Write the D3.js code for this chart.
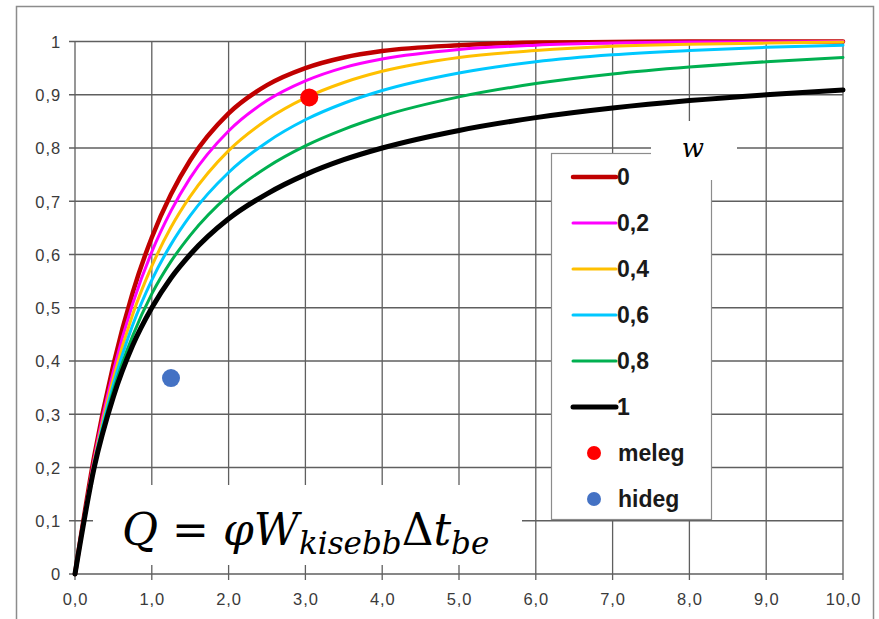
<!DOCTYPE html>
<html>
<head>
<meta charset="utf-8">
<script src="https://cdn.jsdelivr.net/npm/d3@7"></script>
<style>
  html,body{margin:0;padding:0;background:#fff;}
  svg{display:block;}
</style>
</head>
<body>
<svg id="chart" width="879" height="619"></svg>
<script>
/* values */
const ntu = [0,0.25,0.5,0.75,1,1.25,1.5,2,2.5,3,3.5,4,5,6,7,8,9,10];
const phiW0  = [0,0.221,0.393,0.528,0.632,0.713,0.777,0.865,0.918,0.950,0.970,0.982,0.993,0.998,0.999,1.000,1.000,1.000];
const phiW02 = [0,0.217,0.381,0.507,0.605,0.682,0.744,0.832,0.889,0.926,0.951,0.967,0.985,0.993,0.997,0.999,0.999,1.000];
const phiW04 = [0,0.212,0.368,0.487,0.578,0.651,0.709,0.795,0.853,0.894,0.923,0.944,0.970,0.983,0.991,0.995,0.997,0.999];
const phiW06 = [0,0.208,0.356,0.467,0.552,0.619,0.673,0.754,0.811,0.853,0.884,0.908,0.941,0.962,0.975,0.983,0.989,0.993];
const phiW08 = [0,0.204,0.345,0.447,0.526,0.587,0.636,0.711,0.764,0.804,0.835,0.860,0.896,0.921,0.939,0.952,0.962,0.970];
const phiW1  = [0,0.200,0.333,0.429,0.500,0.556,0.600,0.667,0.714,0.750,0.778,0.800,0.833,0.857,0.875,0.889,0.900,0.909];

const wLabels  = ["0","0,2","0,4","0,6","0,8","1"];
const seriesY  = [phiW0, phiW02, phiW04, phiW06, phiW08, phiW1];
const colors   = ["#C00000","#FF00FF","#FFC000","#00C8FF","#00B050","#000000"];
const widths   = [4.5,3,3,3,3,5];

const pointNames = ["meleg","hideg"];
const pointX     = [3.05, 1.25];
const pointY     = [0.895, 0.368];
const pointColor = ["#FF0000","#4472C4"];

const xTicks = [0,1,2,3,4,5,6,7,8,9,10];
const yTicks = [0,0.1,0.2,0.3,0.4,0.5,0.6,0.7,0.8,0.9,1];

const svg = d3.select("#chart");
const x = d3.scaleLinear().domain([0,10]).range([75,843]);
const y = d3.scaleLinear().domain([0,1]).range([574,41.5]);

/* outer frame */
svg.append("rect").attr("x",16.5).attr("y",6.5).attr("width",857).attr("height",640)
  .attr("fill","none").attr("stroke","#8c8c8c").attr("stroke-width",1.5);

/* grid */
const grid = svg.append("g").attr("stroke","#5f5f5f").attr("stroke-width",1.3);
grid.selectAll("line.v").data(xTicks).enter().append("line")
  .attr("x1",d=>x(d)).attr("x2",d=>x(d)).attr("y1",y(1)).attr("y2",y(0)+6);
grid.selectAll("line.h").data(yTicks).enter().append("line")
  .attr("y1",d=>y(d)).attr("y2",d=>y(d)).attr("x1",x(0)-6).attr("x2",x(10));

/* axis labels */
const fmtX = d => d3.format(".1f")(d).replace(".",",");
const fmtY = d => (d===0||d===1) ? String(d) : d3.format(".1f")(d).replace(".",",");

const axX = svg.append("g").attr("transform",`translate(0,${y(0)})`)
  .call(d3.axisBottom(x).tickValues(xTicks).tickFormat(fmtX).tickSize(0).tickPadding(19));
const axY = svg.append("g").attr("transform",`translate(${x(0)},0)`)
  .call(d3.axisLeft(y).tickValues(yTicks).tickFormat(fmtY).tickSize(0).tickPadding(14));
[axX,axY].forEach(a=>{
  a.select(".domain").remove();
  a.selectAll("text").attr("font-family","Liberation Sans, Arial, sans-serif")
    .attr("font-size",16.5).attr("letter-spacing","0.9px").attr("fill","#3a3a3a");
});
axY.selectAll("text").attr("dy","0.35em");

/* curves */
const line = d3.line().x(d=>x(d[0])).y(d=>y(d[1])).curve(d3.curveMonotoneX);
seriesY.forEach((vals,i)=>{
  svg.append("path").datum(ntu.map((n,k)=>[n,vals[k]]))
    .attr("d",line).attr("fill","none")
    .attr("stroke",colors[i]).attr("stroke-width",widths[i])
    .attr("stroke-linecap","round").attr("stroke-linejoin","round");
});

/* points */
svg.selectAll("circle.pt").data(pointNames).enter().append("circle")
  .attr("cx",(d,i)=>x(pointX[i])).attr("cy",(d,i)=>y(pointY[i]))
  .attr("r",9).attr("fill",(d,i)=>pointColor[i]);

/* legend */
const lg = svg.append("g");
lg.append("rect").attr("x",551.5).attr("y",153.5).attr("width",160).attr("height",366)
  .attr("fill","#fff").attr("stroke","#8c8c8c").attr("stroke-width",1.2);
const rowY = i => 177 + i*46;
wLabels.forEach((lab,i)=>{
  lg.append("line").attr("x1",573).attr("x2",616).attr("y1",rowY(i)).attr("y2",rowY(i))
    .attr("stroke",colors[i]).attr("stroke-width",widths[i]).attr("stroke-linecap","round");
  lg.append("text").attr("x",617).attr("y",rowY(i)).attr("dy","0.36em")
    .attr("font-family","Liberation Sans, Arial, sans-serif").attr("font-weight","bold")
    .attr("font-size",23).attr("fill","#1a1a1a").text(lab);
});
pointNames.forEach((nm,j)=>{
  const ry = rowY(wLabels.length + j);
  lg.append("circle").attr("cx",594).attr("cy",ry).attr("r",7).attr("fill",pointColor[j]);
  lg.append("text").attr("x",618).attr("y",ry).attr("dy","0.36em")
    .attr("font-family","Liberation Sans, Arial, sans-serif").attr("font-weight","bold")
    .attr("font-size",23).attr("fill","#1a1a1a").text(nm);
});

/* "w" caption box */
svg.append("rect").attr("x",651).attr("y",121).attr("width",86).attr("height",59).attr("fill","#fff");
svg.append("text").attr("x",693).attr("y",157).attr("text-anchor","middle")
  .attr("font-family","DejaVu Serif, serif").attr("font-style","italic")
  .attr("font-size",26).attr("fill","#000").text("w");

/* formula box */
svg.append("rect").attr("x",93).attr("y",485).attr("width",429).attr("height",80).attr("fill","#fff");
const f = svg.append("text").attr("x",122).attr("y",545)
  .attr("font-family","DejaVu Serif, serif").attr("font-size",44).attr("fill","#000");
f.append("tspan").attr("font-style","italic").text("Q");
f.append("tspan").text(" = ");
f.append("tspan").attr("font-style","italic").text("φW");
f.append("tspan").attr("font-style","italic").attr("font-size",31).attr("dy",9).text("kisebb");
f.append("tspan").attr("dy",-9).text("Δ");
f.append("tspan").attr("font-style","italic").text("t");
f.append("tspan").attr("font-style","italic").attr("font-size",31).attr("dy",9).text("be");
</script>
</body>
</html>
